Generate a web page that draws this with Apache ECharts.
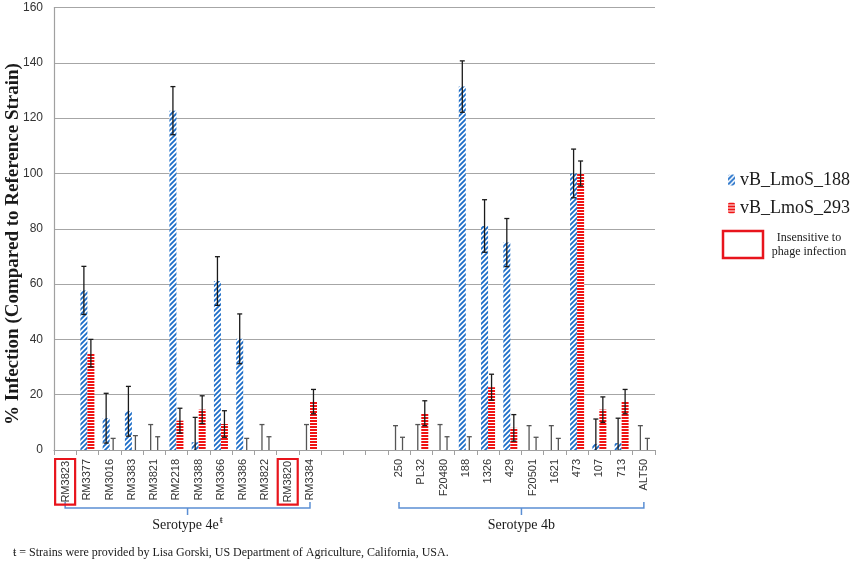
<!DOCTYPE html>
<html>
<head>
    <meta charset="utf-8">
    <title>Phage infection</title>
    <script src="https://cdn.jsdelivr.net/npm/echarts@6/dist/echarts.min.js"></script>
    <style>
        html, body { margin: 0; padding: 0; background: #fff; }
    </style>
</head>
<body>
    <div id="main" style="width: 854px;height:565px;"></div>
    <script type="text/javascript">
        // strains (three blank slots separate the two serotypes)
        var categories = ['RM3823', 'RM3377', 'RM3016', 'RM3383', 'RM3821', 'RM2218', 'RM3388', 'RM3366', 'RM3386', 'RM3822', 'RM3820', 'RM3384',
            ' ', '  ', '   ',
            '250', 'PL32', 'F20480', '188', '1326', '429', 'F20501', '1621', '473', '107', '713', 'ALT50'];

        var lmos188 = [null, 57.7, 11.5, 14, 0, 122.7, 2.8, 61.1, 40.2, 0, null, 0,
            null, null, null,
            0, 0, 0, 131.4, 81, 75, 0, 0, 100, 2.2, 2.5, 0];
        var lmos188Err = [null, 8.7, 9, 9, 9.2, 8.7, 9, 8.8, 9, 9.2, null, 9.2,
            null, null, null,
            8.8, 9.2, 9.2, 9.3, 9.5, 8.7, 8.8, 8.8, 8.8, 9, 9, 8.8];

        var lmos293 = [null, 35, 0, 0, 0, 10.6, 14.6, 9.4, 0, 0, null, 17.5,
            null, null, null,
            0, 13.3, 0, 0, 22.7, 8, 0, 0, 100, 14.6, 17.5, 0];
        var lmos293Err = [null, 5, 4.2, 5.2, 4.8, 4.5, 5, 4.8, 4.2, 4.8, null, 4.4,
            null, null, null,
            4.6, 4.5, 4.8, 4.8, 4.7, 4.8, 4.6, 4.2, 4.5, 4.6, 4.4, 4.2];

        var yTitle = '% Infection (Compared to Reference Strain)';
        var insensitive = ['RM3823', 'RM3820'];
        var groups = [
            { name: 'Serotype 4e', sup: 'ŧ', from: 0, to: 11 },
            { name: 'Serotype 4b', sup: '', from: 15, to: 26 }
        ];
        var footnote = 'ŧ = Strains were provided by Lisa Gorski, US Department of Agriculture, California, USA.';

        // fill patterns: blue diagonal hatch and red horizontal stripes
        function diagPattern() {
            var c = document.createElement('canvas');
            c.width = 5; c.height = 5;
            var g = c.getContext('2d');
            g.fillStyle = '#ffffff';
            g.fillRect(0, 0, 5, 5);
            g.strokeStyle = '#1c6dc8';
            g.lineWidth = 1.8;
            g.beginPath();
            g.moveTo(-1, 6); g.lineTo(6, -1);
            g.moveTo(-1, 1); g.lineTo(1, -1);
            g.moveTo(4, 6); g.lineTo(6, 4);
            g.stroke();
            return { image: c, repeat: 'repeat' };
        }
        function stripePattern() {
            var c = document.createElement('canvas');
            c.width = 4; c.height = 3;
            var g = c.getContext('2d');
            g.fillStyle = '#f01414';
            g.fillRect(0, 0, 4, 3);
            g.fillStyle = '#ffffff';
            g.fillRect(0, 2, 4, 1);
            return { image: c, repeat: 'repeat' };
        }

        var barW = 7;

        function errorSeries(name, vals, errs, offset) {
            var d = [];
            for (var i = 0; i < vals.length; i++) {
                if (vals[i] != null) d.push([i, vals[i], errs[i]]);
            }
            return {
                name: name,
                type: 'custom',
                silent: true,
                z: 5,
                data: d,
                renderItem: function (params, api) {
                    var i = api.value(0), v = api.value(1), e = api.value(2);
                    var hi = api.coord([i, v + e]);
                    var lo = api.coord([i, Math.max(0, v - e)]);
                    var x = hi[0] + offset;
                    var col = v > 0 ? '#1a1a1a' : '#555555';
                    var st = { stroke: col, lineWidth: 1.3 };
                    var kids = [
                        { type: 'line', shape: { x1: x, y1: lo[1], x2: x, y2: hi[1] }, style: st },
                        { type: 'line', shape: { x1: x - 2.5, y1: hi[1], x2: x + 2.5, y2: hi[1] }, style: st }
                    ];
                    if (v > 0 && v - e > 0) {
                        kids.push({ type: 'line', shape: { x1: x - 2.5, y1: lo[1], x2: x + 2.5, y2: lo[1] }, style: st });
                    }
                    return { type: 'group', children: kids };
                }
            };
        }

        var chart = echarts.init(document.getElementById('main'));

        var option = {
            backgroundColor: '#ffffff',
            animation: false,
            grid: { left: 54, right: 199, top: 7.5, bottom: 115, containLabel: false, outerBoundsMode: 'none' },
            legend: {
                orient: 'vertical',
                left: 723,
                top: 166,
                itemWidth: 7,
                itemHeight: 11,
                itemGap: 10,
                data: ['vB_LmoS_188', 'vB_LmoS_293'],
                textStyle: { fontFamily: 'Liberation Serif', fontSize: 18, color: '#1a1a1a' }
            },
            xAxis: {
                type: 'category',
                data: categories,
                axisLine: { lineStyle: { color: '#a0a0a0', width: 1.2 } },
                axisTick: { show: true, length: 5, lineStyle: { color: '#a0a0a0' } },
                axisLabel: {
                    interval: 0,
                    rotate: 90,
                    margin: 9,
                    fontFamily: 'Liberation Sans',
                    fontSize: 11,
                    color: '#333',
                    formatter: function (v) {
                        if (!v.trim()) return '';
                        if (insensitive.indexOf(v) >= 0) return '{box|' + v + '}';
                        return v;
                    },
                    rich: {
                        box: {
                            fontFamily: 'Liberation Sans',
                            fontSize: 11,
                            color: '#333',
                            borderColor: '#e8141c',
                            borderWidth: 2.2,
                            padding: [5, 2, 4, 2]
                        }
                    }
                }
            },
            yAxis: {
                type: 'value',
                min: 0,
                max: 160,
                interval: 20,
                axisLine: { show: true, lineStyle: { color: '#a0a0a0', width: 1.2 } },
                axisTick: { show: false },
                axisLabel: { margin: 11, fontFamily: 'Liberation Sans', fontSize: 12, color: '#333' },
                splitLine: { lineStyle: { color: '#a6a6a6', width: 1.2 } }
            },
            series: [
                {
                    name: 'vB_LmoS_188',
                    type: 'bar',
                    barWidth: barW,
                    barGap: '0%',
                    data: lmos188,
                    itemStyle: { color: diagPattern() }
                },
                {
                    name: 'vB_LmoS_293',
                    type: 'bar',
                    barWidth: barW,
                    barGap: '0%',
                    data: lmos293,
                    itemStyle: { color: stripePattern() }
                },
                errorSeries('err188', lmos188, lmos188Err, -barW / 2),
                errorSeries('err293', lmos293, lmos293Err, barW / 2)
            ]
        };
        chart.setOption(option);

        // y title, brackets, serotype names, the "insensitive" key and the footnote
        var graphics = [];
        graphics.push({
            type: 'text',
            x: 13,
            y: 244,
            rotation: Math.PI / 2,
            style: {
                text: yTitle,
                align: 'center',
                verticalAlign: 'middle',
                fontFamily: 'Liberation Serif',
                fontWeight: 'bold',
                fontSize: 19,
                fill: '#1a1a1a'
            }
        });
        groups.forEach(function (gr) {
            var x1 = chart.convertToPixel({ xAxisIndex: 0 }, gr.from);
            var x2 = chart.convertToPixel({ xAxisIndex: 0 }, gr.to);
            var xm = (x1 + x2) / 2;
            var yb = 508;
            graphics.push({
                type: 'polyline',
                shape: { points: [[x1, yb - 6], [x1, yb], [x2, yb], [x2, yb - 6]] },
                style: { stroke: '#5b8fd4', lineWidth: 1.5, fill: null }
            });
            graphics.push({
                type: 'line',
                shape: { x1: xm, y1: yb, x2: xm, y2: yb + 7 },
                style: { stroke: '#5b8fd4', lineWidth: 1.5 }
            });
            graphics.push({
                type: 'text',
                x: xm,
                y: 525,
                style: {
                    text: gr.name + (gr.sup ? '{s|' + gr.sup + '}' : ''),
                    align: 'center',
                    verticalAlign: 'middle',
                    fontFamily: 'Liberation Serif',
                    fontSize: 14,
                    fill: '#1a1a1a',
                    rich: { s: { fontSize: 11, verticalAlign: 'top', padding: [0, 0, 10, 1], fill: '#1a1a1a', fontFamily: 'Liberation Serif' } }
                }
            });
        });
        graphics.push({
            type: 'rect',
            shape: { x: 723, y: 231, width: 40, height: 27 },
            style: { stroke: '#e8141c', lineWidth: 2.5, fill: null }
        });
        graphics.push({
            type: 'text',
            x: 809,
            y: 231,
            style: {
                text: 'Insensitive to\nphage infection',
                align: 'center',
                verticalAlign: 'top',
                lineHeight: 14,
                fontFamily: 'Liberation Serif',
                fontSize: 12,
                fill: '#1a1a1a'
            }
        });
        graphics.push({
            type: 'text',
            x: 13,
            y: 553,
            style: {
                text: footnote,
                verticalAlign: 'middle',
                fontFamily: 'Liberation Serif',
                fontSize: 12,
                fill: '#1a1a1a'
            }
        });
        chart.setOption({ graphic: graphics });
    </script>
</body>
</html>
